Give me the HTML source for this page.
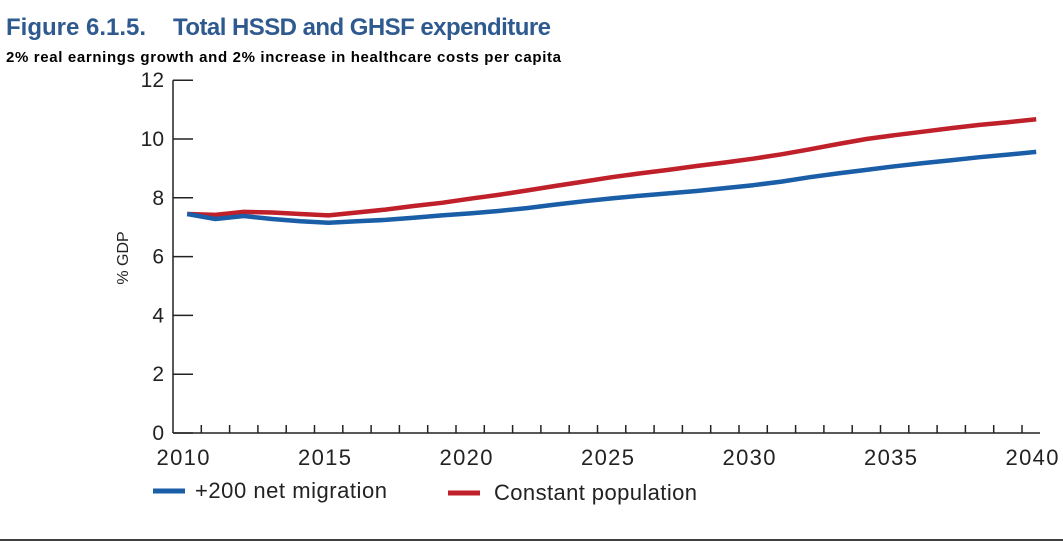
<!DOCTYPE html>
<html><head><meta charset="utf-8"><style>
body{margin:0;background:#fff;}
svg{display:block;font-family:"Liberation Sans",sans-serif;}
</style></head><body>
<svg id="c" width="1063" height="541" viewBox="0 0 1063 541">
<text x="6" y="35" font-size="24" font-weight="bold" fill="#2f5a8f">Figure 6.1.5.<tspan x="173" textLength="378">Total HSSD and GHSF expenditure</tspan></text>
<text x="6" y="62" font-size="15" font-weight="bold" fill="#000" textLength="555">2% real earnings growth and 2% increase in healthcare costs per capita</text>
<text transform="translate(128,258) rotate(-90)" text-anchor="middle" font-size="16" fill="#222">% GDP</text>
<g id="axes"></g>
<g id="series"></g>
<g>
<line x1="153" y1="491" x2="185" y2="491" stroke="#1a5ea8" stroke-width="5"/>
<text x="195" y="498" font-size="22" fill="#222" textLength="192">+200 net migration</text>
<line x1="448" y1="493" x2="480" y2="493" stroke="#c0202a" stroke-width="5"/>
<text x="494" y="500" font-size="22" fill="#222" textLength="203">Constant population</text>
</g>
<line x1="0" y1="540" x2="1063" y2="540" stroke="#000" stroke-width="1.5"/>
</svg>
<script>
const years=[2010,2011,2012,2013,2014,2015,2016,2017,2018,2019,2020,2021,2022,2023,2024,2025,2026,2027,2028,2029,2030,2031,2032,2033,2034,2035,2036,2037,2038,2039,2040];
const migration=[7.45,7.28,7.38,7.28,7.2,7.15,7.2,7.25,7.32,7.4,7.47,7.55,7.65,7.77,7.88,7.98,8.07,8.15,8.23,8.33,8.43,8.55,8.7,8.83,8.95,9.07,9.18,9.28,9.38,9.47,9.56];
const constant=[7.45,7.42,7.52,7.5,7.45,7.4,7.5,7.6,7.72,7.83,7.97,8.1,8.25,8.4,8.55,8.7,8.83,8.95,9.08,9.2,9.33,9.48,9.65,9.83,10.0,10.13,10.25,10.37,10.48,10.57,10.67];
const yTicks=[0,2,4,6,8,10,12];
const xLabels=[2010,2015,2020,2025,2030,2035,2040];
const NS="http://www.w3.org/2000/svg";
const X0=173,DX=28.3,Y0=433,DY=29.4;
const xs=y=>X0+(y-2010+0.5)*DX;
const xt=y=>X0+(y-2010)*DX;
const ys=v=>Y0-v*DY;
function mk(tag,attrs,parent){const e=document.createElementNS(NS,tag);for(const k in attrs)e.setAttribute(k,attrs[k]);parent.appendChild(e);return e;}
const ax=document.getElementById('axes');
let e=mk('line',{x1:X0,y1:ys(12),x2:X0,y2:Y0,stroke:'#222','stroke-width':1.5},ax);


e=mk('line',{x1:X0,y1:Y0,x2:1040,y2:Y0,stroke:'#222','stroke-width':1.5},ax);


yTicks.forEach(v=>{
 const t=mk('line',{x1:X0,y1:ys(v),x2:X0+20,y2:ys(v),stroke:'#222','stroke-width':1.5},ax);
 
 
 const l=mk('text',{x:X0-9,y:ys(v)+7,'text-anchor':'end','font-size':21,fill:'#222'},ax);
 l.textContent=v;
 
 
});
years.slice(1).forEach(y=>{
 const t=mk('line',{x1:xt(y),y1:Y0,x2:xt(y),y2:Y0-8,stroke:'#222','stroke-width':1.5},ax);
 
 
});
xLabels.forEach(y=>{
 const l=mk('text',{x:xt(y)+10,y:Y0+32,'text-anchor':'middle','font-size':22,fill:'#222',textLength:53},ax);
 l.textContent=y;
 
 
});
const sg=document.getElementById('series');
function line(vals,color,name){
 const d=vals.map((v,i)=>(i?'L':'M')+xs(years[i]).toFixed(1)+','+ys(v).toFixed(1)).join(' ');
 const p=mk('path',{d:d,fill:'none',stroke:color,'stroke-width':4.5,'stroke-linejoin':'round'},sg);
 
 
}
line(constant,'#c0202a','line-constant-population');
line(migration,'#1a5ea8','line-net-migration');
</script>
</body></html>
